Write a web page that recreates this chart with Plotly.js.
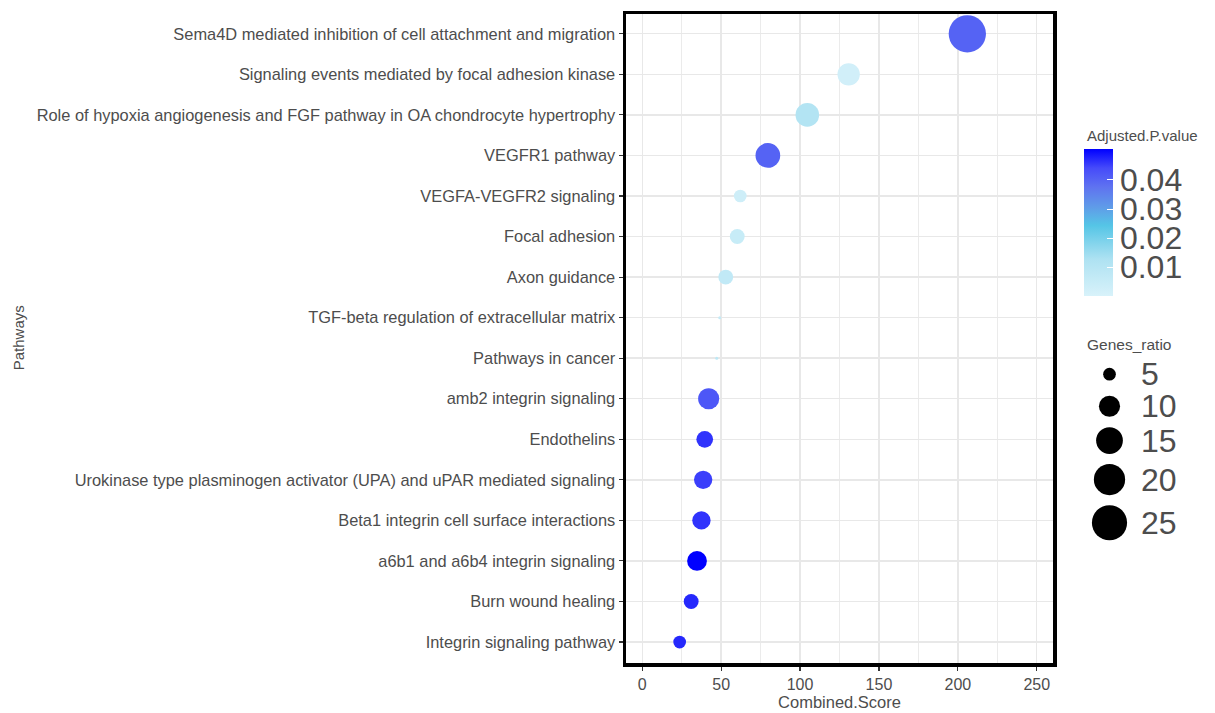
<!DOCTYPE html>
<html><head><meta charset="utf-8">
<script src="https://cdn.plot.ly/plotly-3.0.1.min.js"></script>
<style>html,body{margin:0;padding:0;background:#fff;} #chart{width:1215px;height:713px;}</style>
</head><body><div id="chart"></div>
<script>
// ---- data (top-to-bottom order as shown) ----
const pathways = [
  "Sema4D mediated inhibition of cell attachment and migration",
  "Signaling events mediated by focal adhesion kinase",
  "Role of hypoxia angiogenesis and FGF pathway in OA chondrocyte hypertrophy",
  "VEGFR1 pathway",
  "VEGFA-VEGFR2 signaling",
  "Focal adhesion",
  "Axon guidance",
  "TGF-beta regulation of extracellular matrix",
  "Pathways in cancer",
  "amb2 integrin signaling",
  "Endothelins",
  "Urokinase type plasminogen activator (UPA) and uPAR mediated signaling",
  "Beta1 integrin cell surface interactions",
  "a6b1 and a6b4 integrin signaling",
  "Burn wound healing",
  "Integrin signaling pathway"
];
const combinedScore = [206.0, 130.8, 104.6, 79.6, 62.1, 60.2, 52.9, 49.1, 47.2, 42.1, 39.6, 38.6, 37.5, 34.7, 31.0, 23.7];
const adjustedPValue = [0.040, 0.002, 0.011, 0.040, 0.003, 0.005, 0.007, 0.006, 0.008, 0.042, 0.046, 0.045, 0.046, 0.0505, 0.047, 0.047];
const genesRatio = [28, 11, 12, 13, 5, 6, 6, 3, 3, 10, 7, 8, 8, 9, 6, 5];
const legendGenes = [5, 10, 15, 20, 25];
const colorTickVals = [0.01, 0.02, 0.03, 0.04];
const colorTickText = ["0.01", "0.02", "0.03", "0.04"];

// ---- styling ----
const FONT = "Liberation Sans, Arial, sans-serif";
const TXT = "#4d4d4d";
const colorscale = [
  [0.00, "#d8f2fa"],
  [0.25, "#aee2f2"],
  [0.48, "#55c5e6"],
  [0.60, "#5f9de8"],
  [0.74, "#5f73f0"],
  [0.87, "#464bfa"],
  [1.00, "#0000ff"]
];
const gMin = Math.min(...genesRatio), gMax = Math.max(...genesRatio);
function sizeOf(g) { // ggplot-like area scale: diameter range ~[3, 37] px
  const t = Math.max(0, (g - gMin) / (gMax - gMin));
  return 3 + 34.3 * Math.sqrt(t);
}

// geometry of panel (pixels)
const W = 1215, H = 713;
const mL = 626, mT = 13.5, mB = 50;
const plotW = W - mL, plotH = H - mT - mB;
const panelRight = 1053;
const px2paperX = px => (px - mL) / plotW;
const px2paperY = py => (H - mB - py) / plotH;

const mainTrace = {
  type: "scatter", mode: "markers",
  x: combinedScore, y: pathways,
  xaxis: "x", yaxis: "y",
  marker: {
    size: genesRatio.map(sizeOf),
    color: adjustedPValue,
    colorscale: colorscale, cmin: 0, cmax: 0.0505,
    line: {width: 0},
    opacity: 1,
    colorbar: {
      x: px2paperX(1084), xanchor: "left", xpad: 0,
      y: px2paperY(222.5), yanchor: "middle", ypad: 0,
      thickness: 29, thicknessmode: "pixels",
      len: 147, lenmode: "pixels",
      outlinewidth: 0,
      tickmode: "array", tickvals: colorTickVals, ticktext: colorTickText,
      ticks: "inside", ticklen: 6, tickcolor: "white", tickwidth: 1,
      tickfont: {family: FONT, size: 32, color: TXT}
    }
  },
  hoverinfo: "skip"
};

// size legend (pixel-space helper axes)
const legendD = legendGenes.map(sizeOf);
const keyH = legendD.map(d => Math.max(32, d + 10));
const legendTop = 358;
const legendY = [];
let acc = legendTop + keyH[0] / 2;
legendY.push(acc);
for (let i = 1; i < keyH.length; i++) { acc += (keyH[i - 1] + keyH[i]) / 2; legendY.push(acc); }
const legendX = legendGenes.map(() => 1109.5);

const sizeLegendTrace = {
  type: "scatter", mode: "markers",
  x: legendX, y: legendY, xaxis: "x2", yaxis: "y2",
  marker: {size: legendD, color: legendGenes.map(() => "#000000"), opacity: 1, line: {width: 0}},
  opacity: 1,
  hoverinfo: "skip"
};

const annotations = [
  {text: "Pathways", xref: "paper", yref: "paper", x: px2paperX(18), y: px2paperY(338), textangle: -90,
   showarrow: false, font: {family: FONT, size: 15, color: TXT}, xanchor: "center", yanchor: "middle"},
  {text: "Adjusted.P.value", xref: "paper", yref: "paper", x: px2paperX(1085), y: px2paperY(135),
   showarrow: false, font: {family: FONT, size: 15, color: TXT}, xanchor: "left", yanchor: "middle"},
  {text: "Genes_ratio", xref: "paper", yref: "paper", x: px2paperX(1085), y: px2paperY(344),
   showarrow: false, font: {family: FONT, size: 15.5, color: TXT}, xanchor: "left", yanchor: "middle"}
];
legendGenes.forEach((g, i) => {
  annotations.push({text: String(g), xref: "x2", yref: "y2", x: 1139, y: legendY[i],
    showarrow: false, font: {family: FONT, size: 32, color: TXT}, xanchor: "left", yanchor: "middle"});
});

const layout = {
  width: W, height: H,
  margin: {l: mL, r: 0, t: mT, b: mB, pad: 0},
  paper_bgcolor: "white", plot_bgcolor: "white",
  showlegend: false,
  font: {family: FONT, color: TXT},
  xaxis: {
    domain: [0, (panelRight - mL) / plotW], anchor: "y",
    range: [-10.3, 260.3], autorange: false,
    tickmode: "linear", tick0: 0, dtick: 50,
    ticks: "outside", ticklen: 4, tickcolor: "#333333", tickwidth: 1.1,
    tickfont: {family: FONT, size: 16, color: TXT},
    showgrid: true, gridcolor: "#e8e8e8", gridwidth: 1.4,
    minor: {tickmode: "linear", tick0: 0, dtick: 25, showgrid: true, gridcolor: "#ebebeb", gridwidth: 1.2, ticks: ""},
    showline: true, mirror: true, linecolor: "black", linewidth: 3.5,
    zeroline: false,
    title: {text: "Combined.Score", font: {family: FONT, size: 16.5, color: TXT}, standoff: 5}
  },
  yaxis: {
    domain: [0, 1], anchor: "x",
    type: "category", categoryorder: "array", categoryarray: pathways.slice().reverse(),
    range: [-0.517, 15.488], autorange: false,
    ticks: "outside", ticklen: 4, tickcolor: "#333333", tickwidth: 1.1,
    tickfont: {family: FONT, size: 16.4, color: TXT},
    showgrid: true, gridcolor: "#e8e8e8", gridwidth: 1.4,
    showline: true, mirror: true, linecolor: "black", linewidth: 3.5,
    zeroline: false
  },
  xaxis2: {domain: [px2paperX(1084), 1], anchor: "y2", range: [1084, 1215], autorange: false, visible: false, fixedrange: true},
  yaxis2: {domain: [0, 1], anchor: "x2", range: [H - mB, mT], autorange: false, visible: false, fixedrange: true},
  annotations: annotations
};

Plotly.newPlot("chart", [mainTrace, sizeLegendTrace], layout, {displayModeBar: false, staticPlot: true});
</script>
</body></html>
